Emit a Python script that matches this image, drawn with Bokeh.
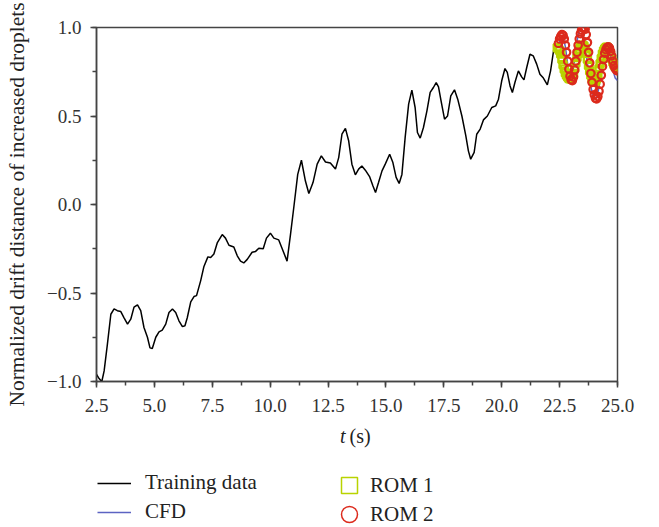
from bokeh.plotting import figure
from bokeh.layouts import column
from bokeh.models import (Legend, LegendItem, Label, SingleIntervalTicker,
                          PrintfTickFormatter, Range1d)
from bokeh.embed import file_html
from bokeh.resources import INLINE

# ---------------- data ----------------
train_t = [2.50, 2.62, 2.73, 2.83, 2.97, 3.12, 3.26, 3.40, 3.55, 3.69, 3.84, 3.98,
           4.12, 4.27, 4.41, 4.55, 4.70, 4.81, 4.91, 5.06, 5.20, 5.34, 5.49, 5.63,
           5.78, 5.92, 6.06, 6.21, 6.32, 6.42, 6.57, 6.71, 6.82, 7.00, 7.14, 7.31,
           7.43, 7.57, 7.72, 7.93, 8.07, 8.22, 8.43, 8.58, 8.72, 8.86, 9.01, 9.22,
           9.37, 9.51, 9.70, 9.84, 10.01, 10.16, 10.37, 10.52, 10.73, 10.88, 11.02,
           11.19, 11.35, 11.52, 11.67, 11.85, 12.03, 12.21, 12.39, 12.60, 12.82,
           12.96, 13.10, 13.25, 13.39, 13.53, 13.68, 13.82, 13.96, 14.11, 14.30,
           14.44, 14.55, 14.68, 14.83, 14.97, 15.16, 15.30, 15.44, 15.57, 15.69,
           15.83, 15.98, 16.12, 16.26, 16.36, 16.48, 16.62, 16.77, 16.91, 17.05,
           17.17, 17.27, 17.38, 17.53, 17.66, 17.80, 17.96, 18.10, 18.28, 18.45,
           18.56, 18.66, 18.81, 18.92, 19.07, 19.21, 19.38, 19.57, 19.74, 19.86,
           20.00, 20.14, 20.24, 20.36, 20.46, 20.57, 20.72, 20.86, 20.96, 21.08,
           21.22, 21.36, 21.51, 21.65, 21.80, 21.97, 22.11, 22.26, 22.40, 22.47]
train_v = [-0.96, -0.985, -1.0, -0.94, -0.79, -0.62, -0.59, -0.60, -0.605, -0.64, -0.676, -0.648,
           -0.58, -0.567, -0.60, -0.695, -0.75, -0.81, -0.814, -0.75, -0.72, -0.71, -0.676, -0.61,
           -0.59, -0.61, -0.657, -0.69, -0.685, -0.64, -0.55, -0.52, -0.515, -0.43, -0.35, -0.296,
           -0.30, -0.28, -0.215, -0.17, -0.19, -0.23, -0.24, -0.29, -0.32, -0.33, -0.31, -0.27,
           -0.265, -0.247, -0.25, -0.19, -0.162, -0.19, -0.20, -0.25, -0.32, -0.167, -0.017,
           0.17, 0.25, 0.134, 0.062, 0.124, 0.228, 0.275, 0.24, 0.234, 0.20,
           0.265, 0.397, 0.43, 0.36, 0.228, 0.168, 0.20, 0.218, 0.194, 0.156,
           0.105, 0.068, 0.124, 0.19, 0.228, 0.284, 0.237, 0.153, 0.119, 0.17,
           0.379, 0.567, 0.646, 0.548, 0.407, 0.375, 0.435, 0.529, 0.633, 0.661,
           0.689, 0.665, 0.586, 0.482, 0.50, 0.614, 0.648, 0.595, 0.50, 0.388,
           0.303, 0.256, 0.294, 0.397, 0.426, 0.478, 0.50, 0.548, 0.557, 0.595,
           0.699, 0.768, 0.746, 0.67, 0.633, 0.689, 0.755, 0.721, 0.704, 0.774,
           0.849, 0.84, 0.793, 0.736, 0.714, 0.676, 0.755, 0.887, 0.906, 0.90]

cfd_t = [22.45, 22.55, 22.65, 22.75, 22.85, 22.95, 23.05, 23.15, 23.25, 23.35, 23.42,
         23.50, 23.60, 23.70, 23.80, 23.90, 24.00, 24.10, 24.20, 24.30, 24.40, 24.50,
         24.60, 24.70, 24.80, 24.90, 25.00]
cfd_v = [0.90, 0.94, 0.95, 0.89, 0.79, 0.725, 0.73, 0.82, 0.92, 0.985, 1.0,
         0.975, 0.90, 0.80, 0.70, 0.635, 0.60, 0.605, 0.66, 0.75, 0.83, 0.88,
         0.89, 0.84, 0.76, 0.715, 0.70]

rom1_t = [22.40, 22.45, 22.50, 22.55, 22.60, 22.65, 22.70, 22.75, 22.80, 22.85, 22.90,
          22.95, 23.00, 23.05, 23.10, 23.15, 23.20, 23.25, 23.30, 23.35, 23.40, 23.45,
          23.50, 23.55, 23.60, 23.65, 23.70, 23.75, 23.80, 23.85, 23.90, 23.95, 24.00,
          24.05, 24.10, 24.15, 24.20, 24.25, 24.30, 24.35, 24.40, 24.45, 24.50, 24.55,
          24.60, 24.65, 24.70, 24.75, 24.80, 24.85, 24.90, 24.95, 25.00]
rom1_v = [0.885, 0.88, 0.87, 0.85, 0.82, 0.79, 0.765, 0.745, 0.73, 0.72, 0.712,
          0.71, 0.71, 0.72, 0.74, 0.77, 0.80, 0.83, 0.855, 0.875, 0.89, 0.898,
          0.90, 0.895, 0.88, 0.855, 0.82, 0.785, 0.755, 0.73, 0.71, 0.698, 0.69,
          0.695, 0.71, 0.735, 0.765, 0.795, 0.825, 0.85, 0.868, 0.88, 0.887, 0.888,
          0.88, 0.865, 0.845, 0.825, 0.805, 0.79, 0.78, 0.775, 0.77]

rom2_t = [22.45, 22.50, 22.55, 22.60, 22.65, 22.70, 22.75, 22.80, 22.85, 22.90, 22.95,
          23.00, 23.05, 23.10, 23.15, 23.20, 23.25, 23.30, 23.35, 23.40, 23.45, 23.50,
          23.55, 23.60, 23.65, 23.70, 23.75, 23.80, 23.85, 23.90, 23.95, 24.00, 24.05,
          24.10, 24.15, 24.20, 24.25, 24.30, 24.35, 24.40, 24.45, 24.50, 24.55, 24.60,
          24.65, 24.70, 24.75, 24.80, 24.85, 24.90, 24.95, 25.00]
rom2_v = [0.91, 0.935, 0.95, 0.96, 0.955, 0.935, 0.90, 0.86, 0.81, 0.765, 0.725,
          0.705, 0.70, 0.72, 0.76, 0.81, 0.86, 0.90, 0.935, 0.965, 0.985, 0.997,
          1.0, 0.99, 0.96, 0.915, 0.86, 0.80, 0.74, 0.69, 0.65, 0.62, 0.60,
          0.597, 0.61, 0.64, 0.68, 0.73, 0.78, 0.82, 0.855, 0.875, 0.887, 0.89,
          0.885, 0.865, 0.84, 0.81, 0.785, 0.77, 0.76, 0.755]

x_label_t = "t"
x_label_unit = "(s)"
y_label = "Normalized drift distance of increased droplets"
legend_labels = ["Training data", "CFD", "ROM 1", "ROM 2"]

# ---------------- styles ----------------
SERIF = "Liberation Serif"
AX = "#444444"
TXT = "#222222"
BLUE = "#5c63c2"
GREEN = "#b9d300"
RED = "#dc2a1c"

W = 659
H_MAIN = 425
H_LEG = 102

p = figure(width=W, height=H_MAIN, output_backend="svg", toolbar_location=None,
           x_range=Range1d(2.5, 25.0), y_range=Range1d(-1.0, 1.0),
           min_border_left=96, min_border_right=42, min_border_top=27,
           min_border_bottom=H_MAIN - 381)
p.xgrid.visible = False
p.ygrid.visible = False
p.outline_line_color = AX
p.outline_line_width = 1.5
p.background_fill_color = "white"
p.border_fill_color = "white"

p.xaxis.ticker = SingleIntervalTicker(interval=2.5, num_minor_ticks=2)
p.yaxis.ticker = SingleIntervalTicker(interval=0.5, num_minor_ticks=2)
p.xaxis.formatter = PrintfTickFormatter(format="%.1f")
p.yaxis.formatter = PrintfTickFormatter(format="%.1f")
p.yaxis.major_label_overrides = {-1.0: "\u22121.0", -0.5: "\u22120.5"}

for ax in (p.xaxis[0], p.yaxis[0]):
    ax.axis_line_color = AX
    ax.axis_line_width = 1.5
    ax.major_tick_line_color = AX
    ax.minor_tick_line_color = AX
    ax.major_tick_line_width = 1.5
    ax.minor_tick_line_width = 1.5
    ax.major_tick_out = 6
    ax.major_tick_in = 0
    ax.minor_tick_out = 4
    ax.minor_tick_in = 0
    ax.major_label_text_font = SERIF
    ax.major_label_text_font_size = "19px"
    ax.major_label_text_color = "#333333"

p.xaxis.major_label_standoff = 11
p.yaxis.major_label_standoff = 9
p.yaxis.axis_label = y_label
p.yaxis.axis_label_text_font = SERIF
p.yaxis.axis_label_text_font_size = "21.5px"
p.yaxis.axis_label_text_font_style = "normal"
p.yaxis.axis_label_text_color = TXT
p.yaxis.axis_label_standoff = 15

# ---------------- glyphs ----------------
p.line(train_t, train_v, line_color="black", line_width=1.5)
p.line(cfd_t, cfd_v, line_color=BLUE, line_width=1.5)
p.scatter(rom1_t, rom1_v, marker="square", size=7, fill_color=None,
          line_color=GREEN, line_width=2.5)
p.scatter(rom2_t, rom2_v, marker="circle", size=7.5, fill_color=None,
          line_color=RED, line_width=2.2)

# ---------------- lower panel: x label + legend keys ----------------
# its frame is aligned with the main frame (left edge at x = 96)
q = figure(width=W, height=H_LEG, output_backend="svg", toolbar_location=None,
           x_range=Range1d(100, 200), y_range=Range1d(100, 200),
           x_axis_type=None, y_axis_type=None,
           min_border_left=0, min_border_right=0, min_border_top=0, min_border_bottom=0)
q.xgrid.visible = False
q.ygrid.visible = False
q.outline_line_color = None
q.background_fill_color = "white"
q.border_fill_color = "white"

q.add_layout(Label(x=249, y=91.5, x_units="screen", y_units="screen", text=x_label_t,
                   text_font=SERIF, text_font_size="20px", text_font_style="italic",
                   text_align="right", text_baseline="middle", text_color=TXT))
q.add_layout(Label(x=253, y=91.5, x_units="screen", y_units="screen", text=x_label_unit,
                   text_font=SERIF, text_font_size="20px",
                   text_align="left", text_baseline="middle", text_color=TXT))

# key proxies: same series, outside this panel's ranges, so only the key shows
k_train = q.line(train_t, train_v, line_color="black", line_width=1.5)
k_cfd = q.line(cfd_t, cfd_v, line_color=BLUE, line_width=1.5)
k_rom1 = q.scatter(rom1_t, rom1_v, marker="square", fill_color=None,
                   line_color=GREEN, line_width=1.5)
k_rom2 = q.scatter(rom2_t, rom2_v, marker="circle", fill_color=None,
                   line_color=RED, line_width=1.5)


def key(label, rend, loc, gw, gh, standoff):
    return Legend(items=[LegendItem(label=label, renderers=[rend])],
                  location=loc, orientation="vertical",
                  glyph_width=gw, glyph_height=gh, label_height=24, spacing=0,
                  label_standoff=standoff, padding=0, margin=0,
                  border_line_color=None, background_fill_alpha=0,
                  label_text_font=SERIF, label_text_font_size="21px",
                  label_text_color=TXT)


q.add_layout(key(legend_labels[0], k_train, (1, 32), 34, 24, 14), "center")
q.add_layout(key(legend_labels[1], k_cfd, (1, 3), 34, 24, 14), "center")
q.add_layout(key(legend_labels[2], k_rom1, (233, 22), 40, 40, 1), "center")
q.add_layout(key(legend_labels[3], k_rom2, (233, -7), 40, 40, 1), "center")

layout = column(p, q, spacing=0)
open("out.html", "w").write(file_html(layout, INLINE))
